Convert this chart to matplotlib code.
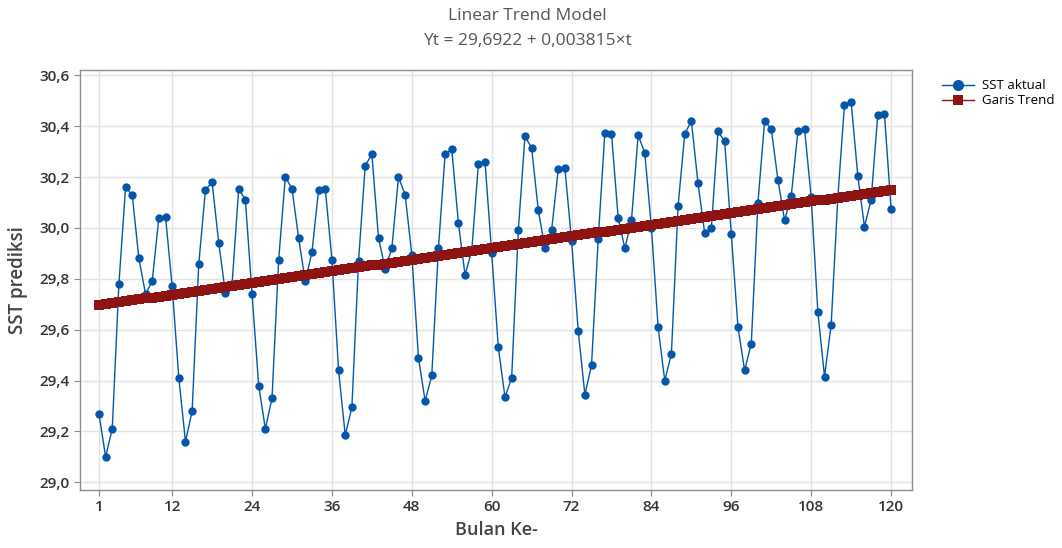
import numpy as np
import matplotlib
matplotlib.use('Agg')
import matplotlib.pyplot as plt
from matplotlib.lines import Line2D

plt.rcParams['font.family'] = ['Open Sans', 'DejaVu Sans']

# monthly SST values (t = 1..120)
sst_aktual = [
    29.27, 29.10, 29.21, 29.78, 30.16, 30.13, 29.88, 29.74, 29.79, 30.04,
    30.045, 29.77, 29.41, 29.16, 29.28, 29.86, 30.15, 30.18, 29.94, 29.745,
    29.78, 30.155, 30.11, 29.74, 29.38, 29.21, 29.33, 29.875, 30.20, 30.155,
    29.96, 29.79, 29.905, 30.15, 30.155, 29.875, 29.44, 29.185, 29.295, 29.87,
    30.245, 30.29, 29.96, 29.84, 29.92, 30.20, 30.13, 29.895, 29.49, 29.32,
    29.42, 29.92, 30.29, 30.31, 30.02, 29.815, 29.91, 30.25, 30.26, 29.90,
    29.53, 29.335, 29.41, 29.99, 30.36, 30.315, 30.07, 29.92, 29.99, 30.23,
    30.235, 29.95, 29.595, 29.345, 29.46, 29.955, 30.375, 30.37, 30.04, 29.92,
    30.03, 30.365, 30.295, 30.00, 29.61, 29.40, 29.505, 30.085, 30.37, 30.42,
    30.175, 29.98, 30.00, 30.38, 30.34, 29.975, 29.61, 29.44, 29.545, 30.10,
    30.42, 30.39, 30.19, 30.03, 30.125, 30.38, 30.39, 30.12, 29.67, 29.415,
    29.62, 30.12, 30.485, 30.495, 30.205, 30.005, 30.11, 30.445, 30.45, 30.075,
]
intercept = 29.6922
slope = 0.003815

x_ticks = [1, 12, 24, 36, 48, 60, 72, 84, 96, 108, 120]
y_ticks = [29.0, 29.2, 29.4, 29.6, 29.8, 30.0, 30.2, 30.4, 30.6]
y_labels = ['29,0', '29,2', '29,4', '29,6', '29,8', '30,0', '30,2', '30,4', '30,6']

t = np.arange(1, len(sst_aktual) + 1)
trend = intercept + slope * t

blue = '#0556a8'
red = '#8e1414'

fig = plt.figure(figsize=(10.62, 5.48), dpi=100)
ax = fig.add_axes([0.0753, 0.106, 0.7835, 0.7667])

ax.plot(t, sst_aktual, color=blue, lw=1.0, marker='o', ms=6,
        markeredgewidth=0, zorder=3)
ax.plot(t, trend, color=red, lw=1.0, marker='s', ms=7.5,
        markeredgewidth=0, zorder=4)

ax.set_xlim(-1.85, 123.15)
ax.set_ylim(28.97, 30.622)
ax.set_xticks(x_ticks)
ax.set_yticks(y_ticks)
ax.set_yticklabels(y_labels)
ax.grid(True, color='#e3e3e3', lw=1.0, zorder=0)
ax.set_axisbelow(True)

for s in ax.spines.values():
    s.set_color('#8c8c8c')
    s.set_linewidth(1.0)
ax.tick_params(axis='both', colors='#8c8c8c', length=4, labelsize=11,
               labelcolor='#333333')
for lbl in ax.get_xticklabels() + ax.get_yticklabels():
    lbl.set_fontweight('semibold')

ax.set_xlabel('Bulan Ke-', fontsize=13, color='#444444',
              fontweight='semibold', labelpad=5)
ax.set_ylabel('SST prediksi', fontsize=13.5, color='#444444',
              fontweight='semibold', labelpad=8)

fig.text(0.4965, 0.970, 'Linear Trend Model', ha='center', va='center',
         fontsize=12.5, color='#555555')
fig.text(0.4965, 0.925, 'Yt = 29,6922 + 0,003815×t', ha='center', va='center',
         fontsize=12.5, color='#555555')

handles = [
    Line2D([], [], color=blue, lw=1.0, marker='o', ms=8, markeredgewidth=0),
    Line2D([], [], color=red, lw=1.0, marker='s', ms=6.5, markeredgewidth=0),
]
fig.legend(handles, ['SST aktual', 'Garis Trend'], loc='upper left',
           bbox_to_anchor=(0.876, 0.877), frameon=False, fontsize=9.5,
           handlelength=2.4, labelspacing=0.15, handletextpad=0.6)

fig.savefig('out.png', dpi=100)
